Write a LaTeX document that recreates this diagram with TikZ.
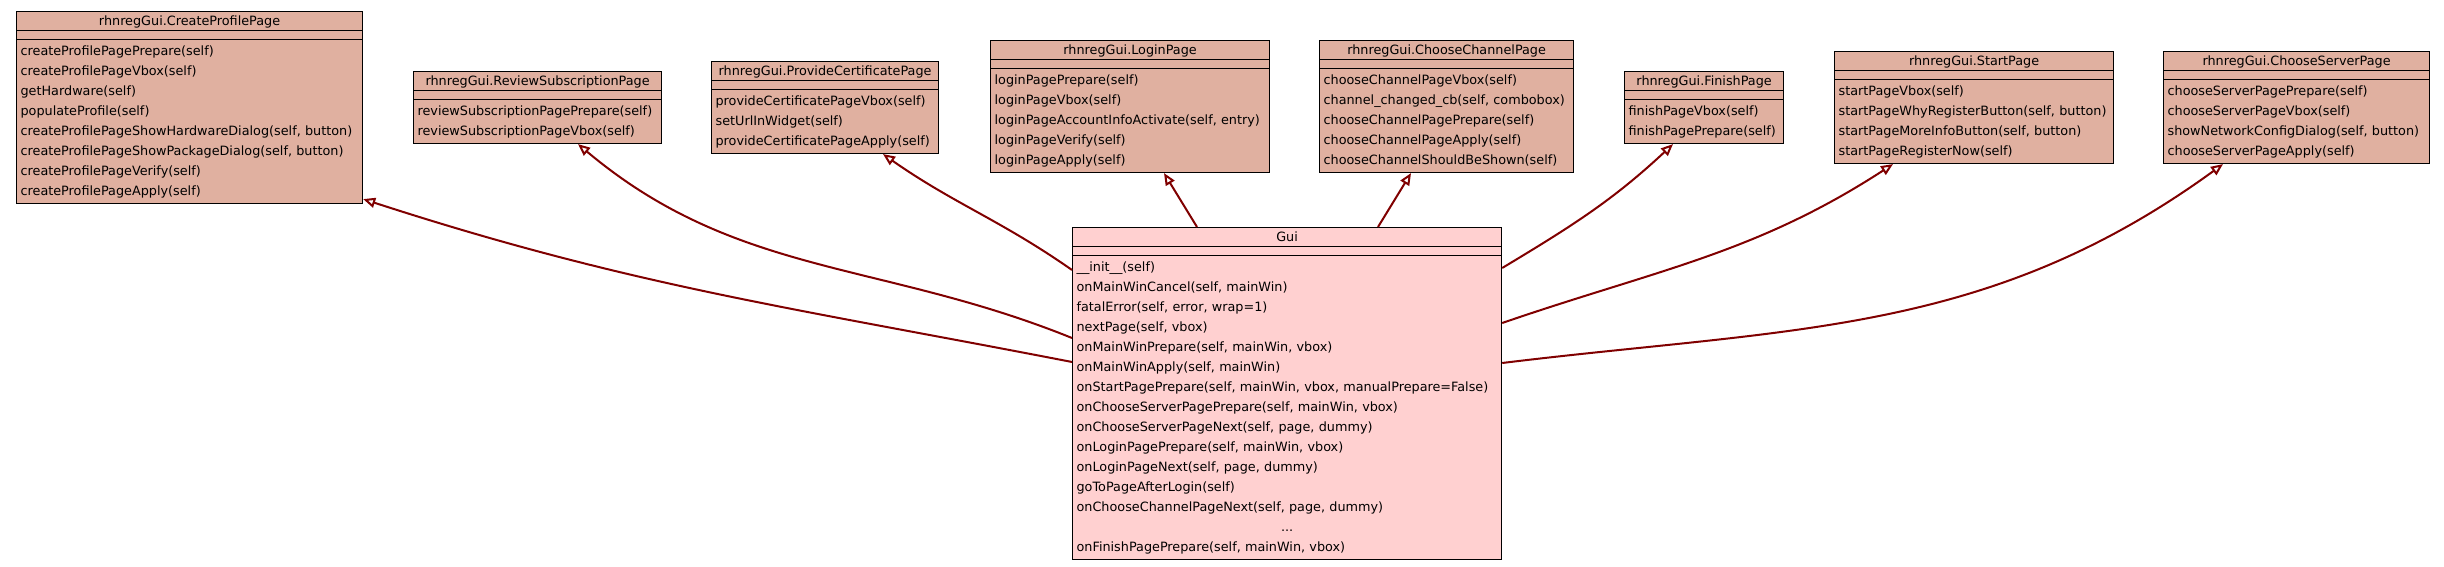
\documentclass[tikz,border=0pt]{standalone}
\usepackage{fontspec}
\setmainfont{DejaVu Sans}
\usetikzlibrary{arrows.meta,shapes.multipart}
\definecolor{pagefill}{RGB}{224,176,160}
\definecolor{guifill}{RGB}{255,208,208}
\definecolor{linkred}{RGB}{128,0,0}
\newcommand{\titlestrut}{\rule[-3.2pt]{0pt}{15pt}}
\newcommand{\classtitle}[1]{\makebox[\hsize]{\titlestrut #1}}

\begin{document}
\begin{tikzpicture}[x=1pt,y=1pt,>={Triangle[open,length=12pt,width=10pt]}]
  \tikzset{classbox/.style={draw, line width=1.2pt, fill=pagefill, anchor=north west,
      rectangle split, rectangle split parts=3, align=left,
      inner xsep=4pt, inner ysep=1.25pt,
      rectangle split empty part height=5.8pt, rectangle split empty part depth=0pt,
      font=\fontsize{12.8}{20}\selectfont},
    inherit/.style={draw=linkred, line width=2pt, ->}}
  \useasboundingbox (0,0) rectangle (2444,567);

  \node[classbox, text width=338pt] (cpp) at (16,556) {\classtitle{rhnregGui.CreateProfilePage}
    \nodepart{three}\strut createProfilePagePrepare(self)\\ createProfilePageVbox(self)\\
    getHardware(self)\\ populateProfile(self)\\
    createProfilePageShowHardwareDialog(self, button)\\
    createProfilePageShowPackageDialog(self, button)\\
    createProfilePageVerify(self)\\ createProfilePageApply(self)\strut};
  \node[classbox, text width=240pt] (rsp) at (413,496) {\classtitle{rhnregGui.ReviewSubscriptionPage}
    \nodepart{three}\strut reviewSubscriptionPagePrepare(self)\\
    reviewSubscriptionPageVbox(self)\strut};
  \node[classbox, text width=219pt] (pcp) at (711,506) {\classtitle{rhnregGui.ProvideCertificatePage}
    \nodepart{three}\strut provideCertificatePageVbox(self)\\ setUrlInWidget(self)\\
    provideCertificatePageApply(self)\strut};
  \node[classbox, text width=271pt] (lp) at (990,527) {\classtitle{rhnregGui.LoginPage}
    \nodepart{three}\strut loginPagePrepare(self)\\ loginPageVbox(self)\\
    loginPageAccountInfoActivate(self, entry)\\ loginPageVerify(self)\\
    loginPageApply(self)\strut};
  \node[classbox, text width=246pt] (ccp) at (1319,527) {\classtitle{rhnregGui.ChooseChannelPage}
    \nodepart{three}\strut chooseChannelPageVbox(self)\\
    channel\_changed\_cb(self, combobox)\\ chooseChannelPagePrepare(self)\\
    chooseChannelPageApply(self)\\ chooseChannelShouldBeShown(self)\strut};
  \node[classbox, text width=151pt] (fp) at (1624,496) {\classtitle{rhnregGui.FinishPage}
    \nodepart{three}\strut finishPageVbox(self)\\ finishPagePrepare(self)\strut};
  \node[classbox, text width=271pt] (sp) at (1834,516) {\classtitle{rhnregGui.StartPage}
    \nodepart{three}\strut startPageVbox(self)\\ startPageWhyRegisterButton(self, button)\\
    startPageMoreInfoButton(self, button)\\ startPageRegisterNow(self)\strut};
  \node[classbox, text width=258pt] (csp) at (2163,516) {\classtitle{rhnregGui.ChooseServerPage}
    \nodepart{three}\strut chooseServerPagePrepare(self)\\ chooseServerPageVbox(self)\\
    showNetworkConfigDialog(self, button)\\ chooseServerPageApply(self)\strut};

  \node[classbox, fill=guifill, text width=421pt] (gui) at (1072,340) {\classtitle{Gui}
    \nodepart{three}\strut \_\_init\_\_(self)\\ onMainWinCancel(self, mainWin)\\
    fatalError(self, error, wrap=1)\\ nextPage(self, vbox)\\
    onMainWinPrepare(self, mainWin, vbox)\\ onMainWinApply(self, mainWin)\\
    onStartPagePrepare(self, mainWin, vbox, manualPrepare=False)\\
    onChooseServerPagePrepare(self, mainWin, vbox)\\
    onChooseServerPageNext(self, page, dummy)\\
    onLoginPagePrepare(self, mainWin, vbox)\\ onLoginPageNext(self, page, dummy)\\
    goToPageAfterLogin(self)\\ onChooseChannelPageNext(self, page, dummy)\\
    \makebox[\hsize]{...}\\ onFinishPagePrepare(self, mainWin, vbox)\strut};

  % inheritance
  \draw[inherit] ([yshift=-135pt]gui.north west) to[out=169,in=-18] ([yshift=5pt]cpp.south east);
  \draw[inherit] ([yshift=-111pt]gui.north west) to[out=158,in=-40] ([xshift=165pt]rsp.south west);
  \draw[inherit] ([yshift=-43pt]gui.north west) to[out=145,in=-35] ([xshift=172pt]pcp.south west);
  \draw[inherit] ([xshift=125pt]gui.north west) -- ([xshift=174pt]lp.south west);
  \draw[inherit] ([xshift=306pt]gui.north west) -- ([xshift=92pt]ccp.south west);
  \draw[inherit] ([yshift=-41pt]gui.north east) to[out=31,in=223] ([xshift=49pt]fp.south west);
  \draw[inherit] ([yshift=-96pt]gui.north east) to[out=19,in=213] ([xshift=59pt]sp.south west);
  \draw[inherit] ([yshift=-136pt]gui.north east) to[out=7,in=216] ([xshift=60pt]csp.south west);
\end{tikzpicture}
\end{document}
